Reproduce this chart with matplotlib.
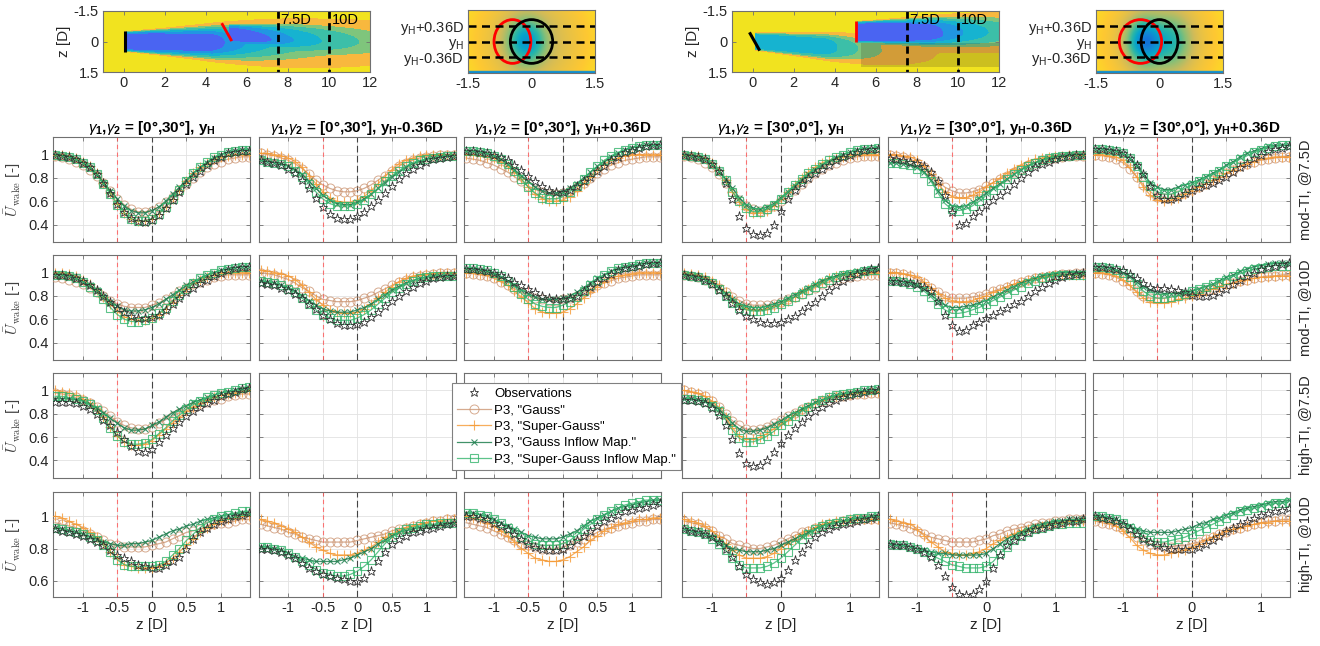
import numpy as np
import matplotlib
matplotlib.use('Agg')
import matplotlib.pyplot as plt
from matplotlib.colors import LinearSegmentedColormap
from matplotlib.patches import Ellipse, Rectangle
from matplotlib.lines import Line2D

plt.rcParams['font.family'] = ['Liberation Sans', 'DejaVu Sans']
plt.rcParams['mathtext.fontset'] = 'custom'
plt.rcParams['mathtext.rm'] = 'Liberation Sans'
plt.rcParams['mathtext.it'] = 'Liberation Sans:italic'
plt.rcParams['mathtext.bf'] = 'Liberation Sans:bold'

# ---------------- data ----------------
z_D = [-1.4, -1.3, -1.2, -1.1, -1.0, -0.9, -0.8, -0.7, -0.6, -0.5, -0.4, -0.3, -0.2, -0.1, 0.0,
       0.1, 0.2, 0.3, 0.4, 0.5, 0.6, 0.7, 0.8, 0.9, 1.0, 1.1, 1.2, 1.3, 1.4]

col_titles = [r'$\gamma_\mathbf{1}$,$\gamma_\mathbf{2}$ = [0°,30°], y$_\mathbf{H}$',
              r'$\gamma_\mathbf{1}$,$\gamma_\mathbf{2}$ = [0°,30°], y$_\mathbf{H}$-0.36D',
              r'$\gamma_\mathbf{1}$,$\gamma_\mathbf{2}$ = [0°,30°], y$_\mathbf{H}$+0.36D',
              r'$\gamma_\mathbf{1}$,$\gamma_\mathbf{2}$ = [30°,0°], y$_\mathbf{H}$',
              r'$\gamma_\mathbf{1}$,$\gamma_\mathbf{2}$ = [30°,0°], y$_\mathbf{H}$-0.36D',
              r'$\gamma_\mathbf{1}$,$\gamma_\mathbf{2}$ = [30°,0°], y$_\mathbf{H}$+0.36D']
row_labels = ['mod-TI, @7.5D', 'mod-TI, @10D', 'high-TI, @7.5D', 'high-TI, @10D']
series_labels = ['Observations', 'P3, "Gauss"', 'P3, "Super-Gauss"',
                 'P3, "Gauss Inflow Map."', 'P3, "Super-Gauss Inflow Map."']

# ---- row 1: mod-TI @7.5D (columns 1..6)
obs_mod75 = [
 [1.00,0.99,0.98,0.96,0.93,0.89,0.83,0.76,0.67,0.58,0.51,0.46,0.43,0.42,0.44,0.48,0.54,0.61,0.68,0.75,0.81,0.86,0.91,0.95,0.98,1.01,1.02,1.03,1.03],
 [0.95,0.94,0.93,0.91,0.88,0.84,0.78,0.71,0.63,0.55,0.49,0.46,0.45,0.45,0.47,0.51,0.56,0.61,0.67,0.73,0.79,0.84,0.88,0.91,0.94,0.96,0.97,0.98,0.99],
 [1.03,1.03,1.02,1.01,1.00,0.98,0.95,0.91,0.87,0.82,0.77,0.73,0.70,0.68,0.68,0.70,0.73,0.77,0.81,0.86,0.90,0.95,0.98,1.02,1.04,1.06,1.07,1.08,1.08],
 [1.00,0.99,0.98,0.96,0.92,0.86,0.76,0.62,0.47,0.37,0.32,0.31,0.33,0.40,0.52,0.62,0.70,0.76,0.80,0.84,0.88,0.91,0.95,0.98,1.00,1.02,1.04,1.05,1.05],
 [0.97,0.96,0.95,0.94,0.93,0.90,0.85,0.77,0.65,0.51,0.40,0.41,0.47,0.52,0.57,0.61,0.65,0.70,0.75,0.80,0.85,0.89,0.92,0.94,0.96,0.98,0.99,1.00,1.00],
 [1.05,1.05,1.04,1.03,1.01,0.97,0.91,0.83,0.73,0.65,0.62,0.62,0.64,0.67,0.70,0.72,0.74,0.76,0.78,0.81,0.85,0.89,0.93,0.97,1.00,1.03,1.05,1.06,1.07]]
gauss_mod75 = [
 [0.99,0.98,0.96,0.94,0.91,0.87,0.82,0.76,0.69,0.62,0.57,0.53,0.51,0.51,0.52,0.55,0.59,0.64,0.70,0.75,0.80,0.85,0.89,0.92,0.94,0.96,0.97,0.98,0.98],
 [1.01,1.00,0.99,0.97,0.95,0.92,0.88,0.83,0.78,0.74,0.71,0.69,0.68,0.68,0.69,0.71,0.74,0.78,0.82,0.86,0.90,0.93,0.95,0.97,0.98,0.99,1.00,1.00,1.00],
 [0.97,0.96,0.95,0.93,0.91,0.88,0.85,0.81,0.77,0.73,0.70,0.68,0.66,0.66,0.67,0.69,0.72,0.76,0.80,0.84,0.88,0.91,0.93,0.95,0.96,0.97,0.98,0.98,0.98],
 [0.99,0.98,0.96,0.93,0.89,0.83,0.76,0.68,0.61,0.56,0.53,0.52,0.53,0.56,0.60,0.65,0.70,0.75,0.80,0.84,0.88,0.91,0.93,0.95,0.97,0.98,0.99,0.99,0.99],
 [1.00,0.99,0.98,0.96,0.93,0.89,0.83,0.77,0.72,0.69,0.67,0.67,0.68,0.70,0.73,0.76,0.79,0.82,0.85,0.88,0.91,0.93,0.95,0.96,0.97,0.98,0.99,0.99,0.99],
 [1.00,0.99,0.98,0.96,0.93,0.88,0.81,0.74,0.68,0.64,0.63,0.63,0.65,0.67,0.70,0.72,0.75,0.78,0.81,0.84,0.87,0.90,0.92,0.94,0.95,0.96,0.97,0.98,0.98]]
sgauss_mod75 = [
 [1.00,1.00,0.99,0.97,0.94,0.90,0.84,0.76,0.67,0.58,0.50,0.45,0.43,0.43,0.45,0.49,0.55,0.62,0.70,0.77,0.84,0.89,0.93,0.96,0.98,0.99,1.00,1.00,1.00],
 [1.01,1.01,1.00,0.99,0.97,0.94,0.89,0.82,0.75,0.68,0.63,0.60,0.59,0.59,0.61,0.64,0.69,0.75,0.81,0.87,0.92,0.95,0.97,0.99,1.00,1.00,1.00,1.00,1.00],
 [1.00,1.00,0.99,0.98,0.97,0.94,0.90,0.85,0.79,0.72,0.66,0.62,0.60,0.60,0.61,0.64,0.69,0.75,0.81,0.87,0.92,0.95,0.97,0.99,1.00,1.00,1.00,1.00,1.00],
 [1.00,1.00,0.99,0.97,0.93,0.87,0.78,0.68,0.59,0.53,0.50,0.50,0.52,0.56,0.62,0.68,0.74,0.80,0.85,0.89,0.93,0.95,0.97,0.98,0.99,1.00,1.00,1.00,1.00],
 [1.00,1.00,0.99,0.98,0.95,0.90,0.83,0.75,0.68,0.64,0.63,0.63,0.65,0.68,0.72,0.76,0.80,0.84,0.88,0.91,0.94,0.96,0.97,0.98,0.99,0.99,1.00,1.00,1.00],
 [1.00,1.00,0.99,0.98,0.95,0.89,0.81,0.72,0.65,0.61,0.60,0.61,0.63,0.66,0.69,0.72,0.75,0.78,0.81,0.84,0.87,0.90,0.92,0.94,0.96,0.97,0.98,0.98,0.98]]
gaussim_mod75 = [
 [1.00,0.99,0.98,0.96,0.93,0.89,0.83,0.76,0.69,0.62,0.56,0.52,0.50,0.50,0.52,0.55,0.60,0.66,0.72,0.78,0.84,0.89,0.93,0.97,1.00,1.02,1.03,1.04,1.04],
 [0.95,0.94,0.93,0.92,0.90,0.87,0.83,0.77,0.71,0.65,0.61,0.58,0.57,0.57,0.59,0.62,0.66,0.71,0.76,0.81,0.85,0.89,0.92,0.94,0.96,0.97,0.98,0.99,0.99],
 [1.03,1.03,1.02,1.01,0.99,0.96,0.92,0.87,0.82,0.77,0.72,0.69,0.67,0.67,0.68,0.71,0.75,0.80,0.85,0.90,0.94,0.98,1.01,1.04,1.06,1.07,1.08,1.08,1.08],
 [1.00,0.99,0.98,0.96,0.92,0.86,0.79,0.71,0.63,0.57,0.54,0.53,0.55,0.58,0.63,0.68,0.73,0.78,0.83,0.87,0.91,0.94,0.97,1.00,1.02,1.04,1.05,1.05,1.06],
 [0.93,0.93,0.92,0.91,0.89,0.85,0.78,0.69,0.61,0.56,0.55,0.56,0.59,0.63,0.67,0.71,0.75,0.79,0.83,0.87,0.90,0.93,0.95,0.97,0.98,0.99,1.00,1.00,1.00],
 [1.05,1.05,1.04,1.03,1.01,0.97,0.91,0.83,0.76,0.72,0.70,0.70,0.72,0.74,0.76,0.78,0.81,0.84,0.87,0.91,0.94,0.98,1.01,1.03,1.05,1.07,1.08,1.08,1.08]]
sgaussim_mod75 = [
 [1.00,0.99,0.98,0.96,0.93,0.89,0.83,0.75,0.66,0.57,0.50,0.45,0.43,0.43,0.45,0.49,0.55,0.62,0.70,0.77,0.84,0.89,0.94,0.98,1.00,1.02,1.03,1.04,1.04],
 [0.95,0.94,0.93,0.92,0.90,0.86,0.81,0.75,0.68,0.62,0.58,0.56,0.56,0.56,0.58,0.61,0.66,0.71,0.77,0.82,0.86,0.90,0.93,0.95,0.96,0.97,0.98,0.99,0.99],
 [1.03,1.03,1.02,1.01,0.99,0.96,0.92,0.86,0.79,0.72,0.67,0.63,0.62,0.62,0.64,0.68,0.73,0.79,0.85,0.90,0.95,0.99,1.02,1.04,1.06,1.07,1.08,1.08,1.08],
 [1.00,0.99,0.98,0.96,0.92,0.86,0.78,0.68,0.60,0.54,0.51,0.51,0.53,0.57,0.62,0.68,0.74,0.79,0.84,0.88,0.92,0.95,0.98,1.00,1.02,1.04,1.05,1.05,1.06],
 [0.93,0.93,0.92,0.91,0.88,0.84,0.77,0.67,0.58,0.53,0.52,0.53,0.56,0.60,0.65,0.70,0.74,0.79,0.83,0.87,0.90,0.93,0.95,0.97,0.98,0.99,0.99,1.00,1.00],
 [1.05,1.05,1.04,1.03,1.01,0.97,0.90,0.81,0.73,0.68,0.66,0.66,0.68,0.71,0.74,0.77,0.80,0.83,0.86,0.90,0.93,0.96,0.99,1.02,1.04,1.06,1.07,1.08,1.08]]

# ---- row 2: mod-TI @10D
obs_mod10 = [
 [0.98,0.98,0.97,0.95,0.93,0.89,0.85,0.80,0.75,0.70,0.66,0.63,0.61,0.61,0.62,0.64,0.68,0.73,0.78,0.83,0.87,0.91,0.94,0.97,1.00,1.02,1.04,1.05,1.05],
 [0.91,0.90,0.89,0.87,0.85,0.82,0.78,0.73,0.69,0.64,0.60,0.57,0.55,0.55,0.56,0.58,0.62,0.66,0.71,0.76,0.80,0.84,0.88,0.91,0.93,0.95,0.96,0.97,0.97],
 [1.03,1.03,1.02,1.01,1.00,0.98,0.95,0.92,0.89,0.86,0.83,0.80,0.78,0.77,0.77,0.78,0.80,0.84,0.88,0.92,0.95,0.99,1.02,1.04,1.05,1.06,1.07,1.08,1.08],
 [0.98,0.97,0.96,0.94,0.90,0.85,0.80,0.74,0.68,0.63,0.60,0.58,0.57,0.57,0.58,0.60,0.63,0.67,0.71,0.75,0.80,0.85,0.89,0.93,0.96,0.99,1.01,1.03,1.04],
 [0.93,0.93,0.92,0.91,0.90,0.88,0.84,0.76,0.64,0.55,0.50,0.51,0.55,0.58,0.61,0.64,0.67,0.70,0.73,0.76,0.80,0.84,0.88,0.91,0.94,0.96,0.98,0.99,1.00],
 [1.05,1.05,1.04,1.03,1.02,0.99,0.95,0.91,0.88,0.87,0.87,0.86,0.85,0.83,0.81,0.80,0.80,0.81,0.83,0.86,0.90,0.94,0.97,1.00,1.03,1.05,1.06,1.07,1.08]]
gauss_mod10 = [
 [0.96,0.95,0.94,0.92,0.90,0.87,0.83,0.80,0.76,0.73,0.71,0.70,0.70,0.70,0.72,0.74,0.77,0.80,0.84,0.87,0.90,0.92,0.94,0.96,0.97,0.98,0.98,0.98,0.98],
 [1.00,0.99,0.98,0.96,0.94,0.91,0.87,0.84,0.80,0.77,0.76,0.75,0.75,0.75,0.76,0.78,0.80,0.83,0.86,0.89,0.92,0.94,0.96,0.97,0.98,0.99,1.00,1.00,1.00],
 [1.00,0.99,0.98,0.97,0.95,0.92,0.89,0.86,0.83,0.80,0.78,0.77,0.76,0.76,0.77,0.78,0.80,0.83,0.86,0.89,0.91,0.93,0.95,0.96,0.97,0.98,0.98,0.98,0.98],
 [0.98,0.97,0.96,0.94,0.91,0.87,0.83,0.79,0.76,0.73,0.72,0.72,0.72,0.73,0.75,0.77,0.79,0.82,0.85,0.87,0.90,0.92,0.94,0.95,0.96,0.97,0.98,0.98,0.98],
 [1.00,1.00,0.99,0.97,0.94,0.91,0.87,0.83,0.80,0.78,0.78,0.78,0.79,0.80,0.82,0.84,0.86,0.88,0.90,0.92,0.94,0.95,0.96,0.97,0.98,0.99,0.99,1.00,1.00],
 [1.00,0.99,0.98,0.96,0.93,0.89,0.84,0.80,0.78,0.78,0.78,0.79,0.80,0.81,0.82,0.83,0.85,0.86,0.88,0.90,0.91,0.93,0.94,0.95,0.96,0.97,0.97,0.98,0.98]]
sgauss_mod10 = [
 [1.00,1.00,0.99,0.97,0.94,0.90,0.85,0.79,0.73,0.67,0.62,0.60,0.59,0.59,0.61,0.64,0.69,0.75,0.81,0.86,0.91,0.94,0.96,0.98,0.99,1.00,1.00,1.00,1.00],
 [1.02,1.01,1.00,0.99,0.97,0.94,0.89,0.83,0.77,0.72,0.68,0.66,0.65,0.65,0.66,0.69,0.73,0.78,0.83,0.88,0.92,0.95,0.97,0.98,0.99,0.99,1.00,1.00,1.00],
 [1.00,1.00,0.99,0.98,0.96,0.93,0.89,0.84,0.79,0.74,0.69,0.66,0.65,0.65,0.66,0.69,0.73,0.78,0.83,0.88,0.92,0.95,0.97,0.98,0.99,1.00,1.00,1.00,1.00],
 [1.00,0.99,0.98,0.96,0.93,0.89,0.83,0.77,0.72,0.69,0.68,0.68,0.69,0.71,0.73,0.76,0.79,0.83,0.86,0.89,0.92,0.95,0.97,0.98,0.99,1.00,1.00,1.00,1.00],
 [1.00,1.00,0.99,0.98,0.96,0.92,0.87,0.82,0.78,0.76,0.75,0.75,0.76,0.78,0.80,0.83,0.85,0.88,0.90,0.92,0.94,0.95,0.96,0.97,0.98,0.98,0.98,0.98,0.98],
 [1.00,1.00,0.99,0.97,0.94,0.89,0.83,0.78,0.75,0.74,0.74,0.75,0.77,0.78,0.80,0.82,0.84,0.86,0.88,0.90,0.91,0.93,0.94,0.95,0.96,0.96,0.97,0.97,0.97]]
gaussim_mod10 = [
 [0.98,0.98,0.97,0.95,0.92,0.89,0.85,0.80,0.75,0.71,0.68,0.67,0.67,0.68,0.70,0.73,0.77,0.81,0.85,0.89,0.92,0.95,0.98,1.00,1.02,1.03,1.04,1.05,1.05],
 [0.93,0.92,0.91,0.89,0.87,0.84,0.80,0.76,0.72,0.69,0.67,0.66,0.66,0.66,0.68,0.70,0.73,0.77,0.81,0.85,0.88,0.91,0.93,0.95,0.96,0.97,0.97,0.97,0.97],
 [1.03,1.03,1.02,1.01,0.99,0.96,0.93,0.89,0.85,0.82,0.79,0.77,0.77,0.77,0.78,0.80,0.83,0.87,0.91,0.95,0.98,1.01,1.03,1.05,1.06,1.07,1.08,1.08,1.08],
 [0.98,0.97,0.96,0.94,0.91,0.87,0.82,0.77,0.73,0.71,0.70,0.70,0.71,0.73,0.75,0.78,0.81,0.84,0.87,0.90,0.93,0.95,0.97,0.99,1.00,1.01,1.02,1.03,1.03],
 [0.93,0.93,0.92,0.91,0.89,0.86,0.81,0.76,0.72,0.70,0.70,0.71,0.72,0.74,0.76,0.79,0.82,0.85,0.88,0.91,0.93,0.95,0.97,0.98,0.99,1.00,1.00,1.00,1.00],
 [1.05,1.05,1.04,1.02,1.00,0.97,0.92,0.88,0.85,0.83,0.82,0.82,0.82,0.83,0.84,0.86,0.88,0.90,0.93,0.96,0.98,1.01,1.03,1.05,1.06,1.07,1.08,1.08,1.08]]
sgaussim_mod10 = [
 [0.98,0.98,0.97,0.95,0.92,0.88,0.83,0.77,0.70,0.64,0.60,0.58,0.58,0.59,0.61,0.65,0.70,0.76,0.81,0.86,0.91,0.95,0.98,1.00,1.02,1.03,1.04,1.05,1.05],
 [0.93,0.92,0.91,0.89,0.86,0.83,0.78,0.73,0.68,0.64,0.61,0.59,0.59,0.59,0.61,0.64,0.68,0.73,0.78,0.83,0.87,0.90,0.93,0.95,0.96,0.97,0.97,0.97,0.97],
 [1.04,1.04,1.03,1.02,1.00,0.97,0.93,0.88,0.82,0.77,0.73,0.71,0.70,0.70,0.72,0.75,0.79,0.84,0.89,0.94,0.98,1.01,1.04,1.05,1.06,1.07,1.08,1.08,1.08],
 [0.98,0.97,0.96,0.94,0.91,0.86,0.80,0.74,0.70,0.68,0.67,0.67,0.68,0.70,0.73,0.76,0.79,0.82,0.85,0.88,0.91,0.94,0.96,0.98,0.99,1.00,1.01,1.02,1.02],
 [0.93,0.93,0.92,0.90,0.88,0.84,0.79,0.73,0.68,0.65,0.65,0.66,0.68,0.70,0.73,0.76,0.79,0.82,0.85,0.88,0.91,0.93,0.95,0.96,0.97,0.98,0.98,0.98,0.98],
 [1.05,1.05,1.04,1.02,1.00,0.96,0.90,0.84,0.80,0.78,0.78,0.79,0.80,0.82,0.84,0.86,0.88,0.90,0.92,0.94,0.97,0.99,1.01,1.03,1.04,1.05,1.06,1.06,1.06]]

# ---- row 3: high-TI @7.5D (only columns 1 and 4 measured)
obs_high75 = [
 [0.90,0.90,0.90,0.89,0.87,0.84,0.80,0.75,0.70,0.64,0.58,0.52,0.48,0.47,0.50,0.56,0.62,0.68,0.73,0.78,0.82,0.86,0.89,0.92,0.95,0.97,0.99,1.01,1.02],
 None, None,
 [0.92,0.92,0.91,0.89,0.85,0.79,0.70,0.58,0.46,0.38,0.35,0.36,0.40,0.47,0.55,0.62,0.68,0.73,0.78,0.82,0.86,0.89,0.92,0.94,0.96,0.98,0.99,1.00,1.00],
 None, None]
gauss_high75 = [
 [0.98,0.97,0.96,0.94,0.92,0.89,0.86,0.82,0.78,0.73,0.70,0.68,0.67,0.67,0.69,0.72,0.75,0.78,0.81,0.84,0.86,0.88,0.90,0.92,0.93,0.95,0.96,0.97,0.97],
 None, None,
 [1.00,0.99,0.97,0.95,0.91,0.86,0.80,0.74,0.70,0.67,0.66,0.67,0.69,0.72,0.75,0.78,0.81,0.84,0.86,0.89,0.91,0.92,0.94,0.95,0.96,0.97,0.97,0.98,0.98],
 None, None]
sgauss_high75 = [
 [1.00,0.99,0.98,0.96,0.93,0.89,0.84,0.77,0.69,0.61,0.56,0.53,0.53,0.54,0.57,0.62,0.67,0.72,0.77,0.82,0.86,0.89,0.92,0.94,0.96,0.97,0.98,0.99,1.00],
 None, None,
 [1.00,0.99,0.98,0.95,0.91,0.85,0.77,0.68,0.61,0.58,0.58,0.60,0.63,0.67,0.71,0.75,0.79,0.83,0.86,0.89,0.92,0.94,0.95,0.96,0.97,0.98,0.98,0.99,0.99],
 None, None]
gaussim_high75 = [
 [0.93,0.93,0.93,0.92,0.91,0.88,0.85,0.81,0.76,0.72,0.68,0.66,0.66,0.67,0.70,0.73,0.77,0.81,0.84,0.87,0.90,0.92,0.94,0.96,0.98,0.99,1.00,1.01,1.02],
 None, None,
 [0.93,0.93,0.92,0.91,0.88,0.84,0.78,0.72,0.67,0.65,0.65,0.66,0.68,0.71,0.74,0.78,0.81,0.84,0.87,0.90,0.92,0.94,0.96,0.97,0.98,0.99,1.00,1.00,1.01],
 None, None]
sgaussim_high75 = [
 [0.95,0.95,0.94,0.93,0.91,0.88,0.83,0.76,0.68,0.61,0.56,0.54,0.54,0.55,0.58,0.63,0.68,0.74,0.79,0.84,0.88,0.91,0.94,0.96,0.98,0.99,1.00,1.02,1.03],
 None, None,
 [0.93,0.93,0.92,0.90,0.87,0.82,0.75,0.66,0.59,0.56,0.56,0.58,0.61,0.65,0.70,0.74,0.78,0.82,0.86,0.89,0.92,0.94,0.96,0.97,0.98,0.99,1.00,1.00,1.01],
 None, None]

# ---- row 4: high-TI @10D
obs_high10 = [
 [0.92,0.91,0.90,0.89,0.88,0.86,0.84,0.82,0.79,0.76,0.74,0.72,0.70,0.69,0.68,0.68,0.70,0.72,0.75,0.80,0.86,0.90,0.93,0.95,0.97,0.98,1.00,1.01,1.02],
 [0.80,0.80,0.79,0.78,0.76,0.74,0.71,0.68,0.66,0.64,0.63,0.62,0.61,0.60,0.60,0.62,0.66,0.72,0.78,0.83,0.86,0.88,0.90,0.91,0.92,0.93,0.94,0.95,0.96],
 [1.00,1.00,0.99,0.98,0.96,0.94,0.92,0.89,0.86,0.83,0.81,0.80,0.79,0.79,0.80,0.82,0.85,0.88,0.91,0.94,0.97,0.99,1.01,1.03,1.04,1.05,1.06,1.07,1.08],
 [0.92,0.91,0.90,0.89,0.87,0.84,0.80,0.75,0.69,0.64,0.61,0.59,0.58,0.59,0.62,0.67,0.73,0.78,0.83,0.87,0.90,0.92,0.94,0.95,0.96,0.97,0.98,0.99,1.00],
 [0.83,0.82,0.82,0.81,0.80,0.78,0.75,0.70,0.63,0.56,0.52,0.51,0.52,0.55,0.60,0.68,0.76,0.82,0.85,0.88,0.90,0.92,0.93,0.94,0.95,0.96,0.97,0.97,0.98],
 [1.00,0.99,0.98,0.97,0.95,0.92,0.89,0.86,0.84,0.82,0.81,0.80,0.80,0.80,0.80,0.81,0.83,0.85,0.88,0.91,0.93,0.95,0.97,0.99,1.01,1.02,1.03,1.04,1.05]]
gauss_high10 = [
 [0.96,0.95,0.94,0.93,0.91,0.89,0.87,0.85,0.83,0.82,0.81,0.81,0.81,0.81,0.82,0.83,0.84,0.86,0.88,0.90,0.91,0.92,0.94,0.95,0.96,0.96,0.97,0.98,0.98],
 [0.95,0.94,0.93,0.92,0.90,0.89,0.87,0.86,0.85,0.84,0.84,0.84,0.84,0.84,0.85,0.86,0.87,0.88,0.89,0.91,0.92,0.93,0.94,0.95,0.96,0.97,0.97,0.98,0.98],
 [0.96,0.95,0.94,0.93,0.91,0.89,0.87,0.85,0.83,0.82,0.81,0.80,0.80,0.80,0.81,0.82,0.84,0.86,0.88,0.90,0.92,0.93,0.94,0.95,0.96,0.97,0.97,0.98,0.98],
 [0.97,0.96,0.95,0.93,0.91,0.88,0.86,0.83,0.82,0.81,0.80,0.80,0.81,0.82,0.84,0.86,0.88,0.90,0.91,0.93,0.94,0.95,0.96,0.97,0.97,0.98,0.98,0.98,0.98],
 [0.96,0.95,0.94,0.93,0.91,0.89,0.87,0.86,0.85,0.84,0.84,0.84,0.84,0.85,0.86,0.88,0.89,0.91,0.92,0.93,0.94,0.95,0.96,0.96,0.97,0.97,0.98,0.98,0.98],
 [0.97,0.96,0.95,0.94,0.92,0.90,0.87,0.85,0.83,0.82,0.81,0.81,0.82,0.82,0.83,0.84,0.86,0.87,0.89,0.90,0.92,0.93,0.94,0.95,0.96,0.97,0.97,0.98,0.98]]
sgauss_high10 = [
 [1.00,0.99,0.97,0.95,0.93,0.90,0.87,0.83,0.78,0.74,0.70,0.69,0.68,0.68,0.68,0.69,0.71,0.74,0.78,0.82,0.86,0.90,0.93,0.95,0.97,0.98,0.99,1.00,1.00],
 [0.98,0.97,0.96,0.94,0.92,0.90,0.87,0.84,0.81,0.79,0.77,0.76,0.76,0.76,0.77,0.79,0.81,0.84,0.87,0.89,0.91,0.93,0.94,0.95,0.96,0.97,0.97,0.98,0.98],
 [1.00,0.99,0.98,0.96,0.94,0.91,0.88,0.84,0.80,0.77,0.74,0.73,0.72,0.72,0.73,0.75,0.78,0.81,0.85,0.88,0.91,0.93,0.95,0.96,0.97,0.98,0.98,0.99,0.99],
 [0.98,0.97,0.96,0.94,0.91,0.87,0.83,0.79,0.76,0.74,0.74,0.74,0.75,0.77,0.80,0.83,0.86,0.89,0.91,0.93,0.95,0.96,0.97,0.97,0.98,0.98,0.98,0.98,0.98],
 [0.98,0.97,0.96,0.95,0.92,0.88,0.84,0.81,0.78,0.77,0.76,0.76,0.77,0.78,0.80,0.83,0.85,0.87,0.89,0.91,0.92,0.93,0.94,0.95,0.96,0.96,0.97,0.97,0.97],
 [0.98,0.97,0.96,0.94,0.91,0.87,0.82,0.79,0.77,0.76,0.76,0.77,0.78,0.79,0.81,0.83,0.85,0.87,0.89,0.91,0.92,0.93,0.94,0.95,0.96,0.96,0.97,0.97,0.97]]
gaussim_high10 = [
 [0.93,0.92,0.91,0.90,0.89,0.87,0.86,0.84,0.83,0.82,0.82,0.83,0.83,0.84,0.85,0.87,0.89,0.91,0.92,0.94,0.95,0.97,0.98,0.99,1.00,1.01,1.01,1.02,1.02],
 [0.81,0.81,0.80,0.79,0.77,0.75,0.74,0.73,0.72,0.72,0.72,0.72,0.73,0.74,0.76,0.78,0.80,0.83,0.85,0.88,0.90,0.91,0.92,0.93,0.94,0.94,0.95,0.95,0.96],
 [1.02,1.02,1.01,1.00,0.98,0.96,0.94,0.92,0.90,0.88,0.87,0.86,0.86,0.86,0.87,0.89,0.91,0.94,0.97,0.99,1.01,1.03,1.05,1.06,1.07,1.08,1.09,1.10,1.10],
 [0.92,0.91,0.90,0.89,0.87,0.84,0.82,0.80,0.79,0.78,0.78,0.78,0.79,0.80,0.82,0.84,0.86,0.88,0.90,0.92,0.94,0.95,0.96,0.97,0.98,0.99,0.99,1.00,1.00],
 [0.83,0.82,0.82,0.81,0.80,0.79,0.78,0.77,0.77,0.76,0.76,0.76,0.76,0.76,0.77,0.80,0.83,0.86,0.88,0.90,0.92,0.94,0.95,0.96,0.97,0.97,0.98,0.98,0.98],
 [1.00,1.00,0.99,0.98,0.96,0.94,0.92,0.91,0.90,0.90,0.90,0.90,0.91,0.92,0.93,0.95,0.96,0.98,0.99,1.01,1.02,1.04,1.05,1.06,1.07,1.08,1.09,1.09,1.10]]
sgaussim_high10 = [
 [0.93,0.92,0.91,0.90,0.89,0.87,0.85,0.82,0.78,0.73,0.70,0.69,0.69,0.69,0.69,0.70,0.72,0.76,0.80,0.85,0.89,0.93,0.96,0.98,1.00,1.01,1.02,1.03,1.03],
 [0.81,0.81,0.80,0.79,0.77,0.75,0.72,0.70,0.67,0.65,0.64,0.63,0.63,0.64,0.66,0.69,0.73,0.78,0.83,0.87,0.90,0.92,0.93,0.94,0.95,0.95,0.96,0.96,0.96],
 [1.02,1.02,1.01,1.00,0.98,0.96,0.93,0.90,0.87,0.85,0.83,0.82,0.82,0.82,0.83,0.85,0.88,0.92,0.95,0.98,1.01,1.03,1.05,1.07,1.08,1.09,1.10,1.10,1.10],
 [0.92,0.91,0.90,0.89,0.86,0.83,0.79,0.74,0.70,0.68,0.68,0.68,0.69,0.71,0.74,0.78,0.82,0.86,0.89,0.92,0.94,0.95,0.96,0.97,0.98,0.99,0.99,1.00,1.00],
 [0.83,0.82,0.82,0.81,0.80,0.78,0.76,0.74,0.72,0.70,0.69,0.68,0.68,0.68,0.69,0.72,0.77,0.81,0.85,0.88,0.90,0.92,0.93,0.94,0.95,0.95,0.96,0.96,0.96],
 [1.00,1.00,0.99,0.98,0.96,0.93,0.90,0.87,0.85,0.84,0.84,0.85,0.86,0.87,0.89,0.91,0.93,0.95,0.97,0.99,1.01,1.03,1.04,1.05,1.06,1.07,1.08,1.08,1.09]]

rows_data = [
    [obs_mod75, gauss_mod75, sgauss_mod75, gaussim_mod75, sgaussim_mod75],
    [obs_mod10, gauss_mod10, sgauss_mod10, gaussim_mod10, sgaussim_mod10],
    [obs_high75, gauss_high75, sgauss_high75, gaussim_high75, sgaussim_high75],
    [obs_high10, gauss_high10, sgauss_high10, gaussim_high10, sgaussim_high10],
]
row_ylims = [(0.25, 1.15), (0.25, 1.15), (0.25, 1.15), (0.5, 1.15)]
row_yticks = [[0.4, 0.6, 0.8, 1.0], [0.4, 0.6, 0.8, 1.0], [0.4, 0.6, 0.8, 1.0], [0.6, 0.8, 1.0]]

# ---------------- layout helpers ----------------
W, H = 1320, 646
def box(l, t, r, b):
    return [l / W, 1 - b / H, (r - l) / W, (b - t) / H]

fig = plt.figure(figsize=(W / 100, H / 100), dpi=100)

frame_c = '#707070'
txt_c = '#262626'

def style_axes(ax, fs=10):
    for sp in ax.spines.values():
        sp.set_color(frame_c)
        sp.set_linewidth(0.8)
    ax.tick_params(direction='in', length=3, width=0.6, color=frame_c, labelcolor=txt_c,
                   labelsize=fs, top=True, right=True, pad=3)

# parula-like colormap
parula = LinearSegmentedColormap.from_list('parula', ['#352a87', '#0f5cdd', '#1481d6', '#06a4ca',
                                                      '#2eb7a4', '#87bf77', '#d1bb59', '#fec832', '#f9fb0e'])
wake_levels = [-1, 0.45, 0.55, 0.65, 0.75, 0.83, 0.93, 2]
wake_colors = ['#4a64f2', '#2196e2', '#16b3d0', '#3cbfa8', '#7fc57c', '#f8b83e', '#f1e31f']

def wake(X, Z, x0, z0, slope, A0, s_hold, s_dec, sig0, sig_rate):
    s = np.clip(X - x0, 0, None)
    zc = z0 + slope * s
    sig = sig0 + sig_rate * s
    p = 2 + 8 * np.exp(-s / 2.5)
    A = A0 * np.exp(-np.clip(s - s_hold, 0, None) / s_dec)
    d = A * np.exp(-(np.abs(Z - zc) / sig) ** p)
    return np.where(X >= x0, d, 0.0)

xg = np.linspace(-1, 12, 500)
zg = np.linspace(-1.5, 1.5, 240)
XG, ZG = np.meshgrid(xg, zg)

def top_view(ax, case):
    if case == 0:
        d = wake(XG, ZG, 0.05, 0.0, 0.01, 0.62, 4.3, 5.0, 0.5, 0.07) + \
            wake(XG, ZG, 5.1, -0.45, 0.06, 0.30, 0.0, 6.0, 0.4, 0.05)
    else:
        d = wake(XG, ZG, 0.1, 0.0, 0.07, 0.42, 3.5, 3.0, 0.45, 0.055) + \
            wake(XG, ZG, 5.05, -0.5, 0.0, 0.62, 3.5, 5.0, 0.5, 0.05)
    U = 1 - d
    ax.contourf(XG, ZG, U, levels=wake_levels, colors=wake_colors)
    if case == 1:
        ax.add_patch(Rectangle((5.3, 0.05), 6.7, 1.2, facecolor='#3a3020', alpha=0.2, lw=0))
        ax.plot([-0.15, 0.35], [-0.45, 0.45], color='k', lw=2.2, solid_capstyle='butt')
        ax.plot([5.05, 5.05], [-1.0, 0.0], color='red', lw=2.0, solid_capstyle='butt')
    else:
        ax.plot([0.05, 0.05], [-0.5, 0.5], color='k', lw=2.2, solid_capstyle='butt')
        ax.plot([4.78, 5.27], [-0.9, -0.02], color='red', lw=2.0, solid_capstyle='butt')
    for xd, lab in [(7.5, '7.5D'), (10.0, '10D')]:
        ax.plot([xd, xd], [-1.5, 1.5], color='k', lw=2.0, dashes=(2.6, 1.6))
        ax.text(xd + 0.12, -1.08, lab, fontsize=10.5, color='k', va='center', ha='left')
    ax.set_xlim(-1, 12)
    ax.set_ylim(1.5, -1.5)
    ax.set_xticks([0, 2, 4, 6, 8, 10, 12])
    ax.set_yticks([-1.5, 0, 1.5])
    ax.set_yticklabels(['-1.5', '0', '1.5'])
    ax.set_ylabel('z [D]', fontsize=11, color=txt_c, labelpad=2)
    style_axes(ax, 10.5)

zc_ = np.linspace(-1.5, 1.5, 300)
yc_ = np.linspace(-0.72, 0.72, 150)
ZC, YC = np.meshgrid(zc_, yc_)

def cross_view(ax, case):
    r2 = ZC ** 2 + YC ** 2
    if case == 0:
        C = 1 - 0.42 * np.exp(-((ZC + 0.12) ** 2 / (2 * 0.3 ** 2) + YC ** 2 / (2 * 0.35 ** 2))) \
              - 0.26 * np.exp(-r2 / (2 * 1.1 ** 2))
    else:
        C = 1 - 0.52 * np.exp(-((ZC + 0.35) ** 2 / (2 * 0.28 ** 2) + YC ** 2 / (2 * 0.35 ** 2))) \
              - 0.26 * np.exp(-((ZC - 0.3) ** 2 / (2 * 0.3 ** 2) + YC ** 2 / (2 * 0.4 ** 2))) \
              - 0.26 * np.exp(-r2 / (2 * 1.1 ** 2))
    C = np.where(YC < -0.68, 0.3, C)
    ax.imshow(C, extent=[-1.5, 1.5, -0.72, 0.72], origin='lower', cmap=parula, vmin=0, vmax=1,
              aspect='auto', interpolation='bilinear')
    for yl in [0.36, 0.0, -0.36]:
        ax.plot([-1.5, 1.5], [yl, yl], color='k', lw=1.8, dashes=(3.2, 2.2))
    wr, wb = (0.87, 1.0) if case == 0 else (1.0, 0.87)
    ax.add_patch(Ellipse((-0.45, 0), wr, 1.0, fill=False, ec='red', lw=2.0))
    ax.add_patch(Ellipse((0.0, 0), wb, 1.0, fill=False, ec='k', lw=2.0))
    ax.set_xlim(-1.5, 1.5)
    ax.set_ylim(-0.72, 0.72)
    ax.set_xticks([-1.5, 0, 1.5])
    ax.set_xticklabels(['-1.5', '0', '1.5'])
    ax.set_yticks([-0.36, 0, 0.36])
    ax.set_yticklabels([r'y$_\mathregular{H}$-0.36D', r'y$_\mathregular{H}$', r'y$_\mathregular{H}$+0.36D'])
    style_axes(ax, 10.5)
    ax.tick_params(length=0)

ax_t1 = fig.add_axes(box(103, 11, 370, 72)); top_view(ax_t1, 0)
ax_c1 = fig.add_axes(box(468, 10, 595, 73)); cross_view(ax_c1, 0)
ax_t2 = fig.add_axes(box(732, 11, 999, 72)); top_view(ax_t2, 1)
ax_c2 = fig.add_axes(box(1096, 10, 1223, 73)); cross_view(ax_c2, 1)

# ---------------- main grid ----------------
col_left = [53, 258.5, 464, 682, 887.5, 1093]
col_w = 197
row_top = [137, 255, 373, 492]
row_h = 105

model_styles = [
    dict(color='#c98f6a', marker='o', ms=6.5, mfc='none', mew=0.7, lw=0.9, alpha=0.75),
    dict(color='#f59a35', marker='+', ms=7.5, mew=0.8, lw=0.9, alpha=0.8),
    dict(color='#1f7f4f', marker='x', ms=5.0, mew=0.8, lw=0.9, alpha=0.85),
    dict(color='#35b56d', marker='s', ms=6.0, mfc='none', mew=0.8, lw=0.9, alpha=0.8),
]
obs_style = dict(ls='none', marker='*', ms=6.5, mfc='none', mec='#303030', mew=0.6)

for r in range(4):
    for c in range(6):
        ax = fig.add_axes(box(col_left[c], row_top[r], col_left[c] + col_w, row_top[r] + row_h))
        ax.set_xlim(-1.43, 1.42)
        ax.set_ylim(*row_ylims[r])
        ax.set_xticks([-1, -0.5, 0, 0.5, 1])
        ax.set_yticks(row_yticks[r])
        ax.grid(True, color='#e2e2e2', lw=0.6)
        ax.set_axisbelow(True)
        style_axes(ax, 10.5)
        if r == 3:
            if c < 3:
                ax.set_xticklabels(['-1', '-0.5', '0', '0.5', '1'])
            else:
                ax.set_xticklabels(['-1', '', '0', '', '1'])
            ax.set_xlabel('z [D]', fontsize=11, color=txt_c, labelpad=2)
        else:
            ax.set_xticklabels([])
        if c == 0:
            ax.set_yticklabels([('%g' % v) for v in row_yticks[r]])
            ax.set_ylabel(r'$\bar{U}_{\rm wake}$ [-]', fontsize=11, color='#404040',
                          math_fontfamily='cm', labelpad=4)
        else:
            ax.set_yticklabels([])
        if r == 0:
            ax.set_title(col_titles[c], fontsize=11, fontweight='bold', pad=3)
        if c == 5:
            fig.text(1306 / W, 1 - (row_top[r] + row_h / 2) / H, row_labels[r], rotation=90,
                     ha='center', va='center', fontsize=10.5, color=txt_c)
        series = [rows_data[r][k][c] for k in range(5)]
        if series[0] is None:
            continue
        ax.axvline(-0.5, color='#ff5555', lw=0.8, dashes=(4, 3), alpha=0.8)
        ax.axvline(0.0, color='#444444', lw=0.8, dashes=(6, 3))
        for k in range(1, 5):
            v = series[k]
            ax.plot(z_D[:len(v)], v, **model_styles[k - 1], zorder=3)
        v = series[0]
        ax.plot(z_D[:len(v)], v, **obs_style, zorder=4)

# legend
handles = [Line2D([], [], **obs_style)] + [Line2D([], [], **st) for st in model_styles]
leg = fig.legend(handles, series_labels, loc='upper left', bbox_to_anchor=(452 / W, 1 - 383 / H),
                 fontsize=9.5, handlelength=2.6, handletextpad=0.25, labelspacing=0.32,
                 borderpad=0.35, borderaxespad=0, frameon=True, fancybox=False, framealpha=1)
leg.get_frame().set_edgecolor('#808080')
leg.get_frame().set_linewidth(0.8)

fig.savefig('out.png', dpi=100)
